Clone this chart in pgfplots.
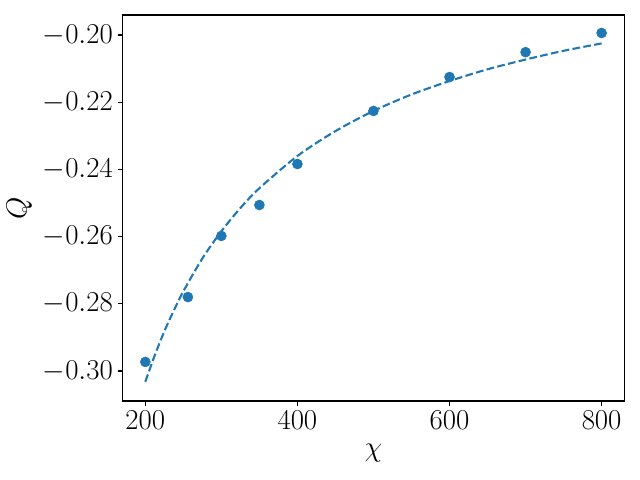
\documentclass[border=0pt]{standalone}
\usepackage{pgfplots}
\pgfplotsset{compat=1.18}
\definecolor{tabblue}{HTML}{1F77B4}

\begin{document}
\begin{tikzpicture}
\useasboundingbox (0,0) rectangle (460.8pt,345.6pt);
\begin{axis}[
    at={(88.2pt,56.88pt)}, anchor=south west,
    scale only axis,
    width=361.4pt, height=277.9pt,
    xmin=170, xmax=830,
    ymin=-0.30893, ymax=-0.19405,
    xtick={200,400,600,800},
    ytick={-0.30,-0.28,-0.26,-0.24,-0.22,-0.20},
    yticklabel style={/pgf/number format/.cd, fixed, fixed zerofill, precision=2},
    scaled y ticks=false,
    tick pos=left,
    tick align=outside,
    major tick length=3.5pt,
    tick style={black, line width=0.8pt},
    axis line style={line width=0.8pt},
    tick label style={font=\fontsize{20}{24}\selectfont},
    label style={font=\fontsize{22}{26}\selectfont},
    xlabel style={yshift=-4pt},
    ylabel style={yshift=1pt},
    xlabel={$\chi$},
    ylabel={$Q$},
    clip=false,
]
% fitted curve
\addplot[tabblue, line width=1.5pt, dash pattern=on 5.55pt off 2.4pt, smooth] coordinates {
    (200,-0.3032) (212.5,-0.2953) (225,-0.2882) (237.5,-0.2820) (250,-0.2763)
    (275,-0.2665) (300,-0.2584) (325,-0.2515) (350,-0.2456) (400,-0.2360)
    (450,-0.2286) (500,-0.2226) (550,-0.2177) (600,-0.2137) (650,-0.2102)
    (700,-0.2073) (750,-0.2047) (800,-0.2025)
};
% measured values
\addplot[only marks, mark=*, mark size=3.6pt, color=tabblue] coordinates {
    (200,-0.2973) (256,-0.2780) (300,-0.2598) (350,-0.2506) (400,-0.2384)
    (500,-0.2226) (600,-0.2125) (700,-0.2051) (800,-0.1994)
};
\end{axis}
\end{tikzpicture}
\end{document}
